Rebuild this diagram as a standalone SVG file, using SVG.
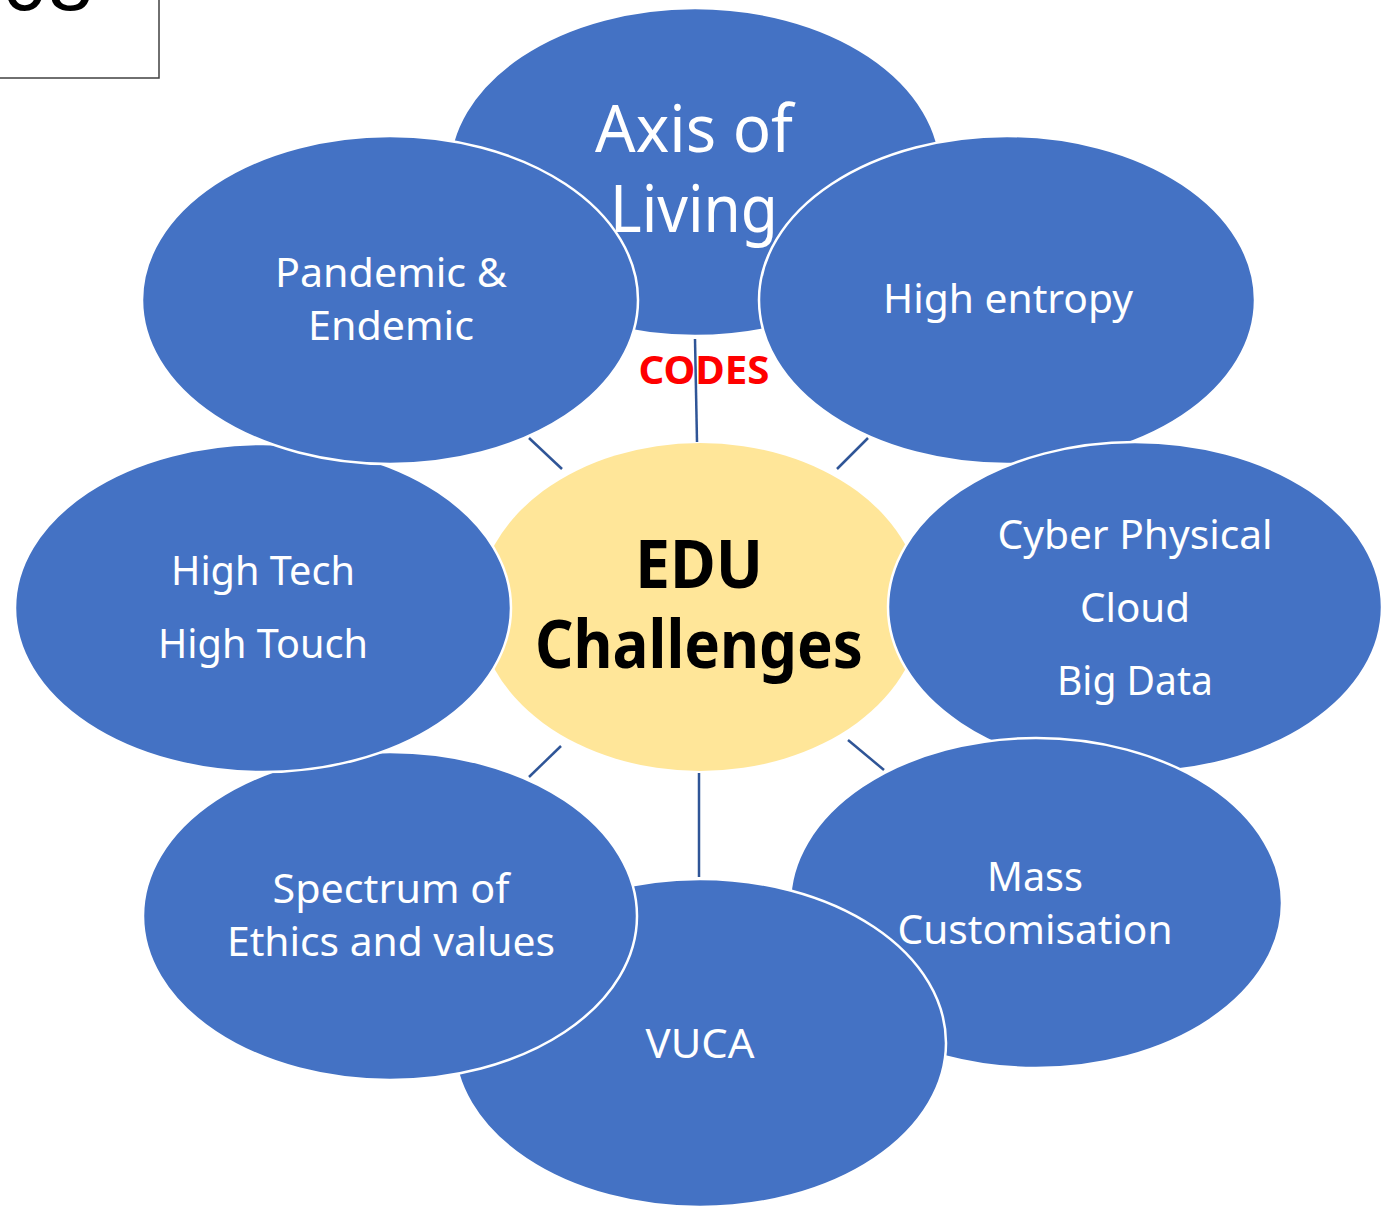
<svg xmlns="http://www.w3.org/2000/svg" width="1387" height="1206" viewBox="0 0 1387 1206">
<style>
.sat{fill:#4472C4;stroke:#FFFFFF;stroke-width:2.5}
.ctr{fill:#FFE699}
.t{font-family:"Noto Sans","Open Sans",sans-serif;fill:#FFFFFF;font-size:40px;text-anchor:middle}
.big{font-size:66px}
.c{font-family:"Noto Sans","Open Sans",sans-serif;fill:#000000;font-weight:bold;font-size:66px;text-anchor:middle}
.conn{stroke:#2F5597;stroke-width:2.5;fill:none}
</style>
<rect width="1387" height="1206" fill="#FFFFFF"/>
<g id="corner">
<rect x="-5" y="-5" width="164" height="83" fill="#FFFFFF" stroke="#404040" stroke-width="1.5"/>
<text x="2" y="10" font-family="Liberation Sans, Arial, sans-serif" font-size="82" fill="#000000">08</text>
</g>
<g id="codes-label">
<text x="704" y="384" font-family="Noto Sans, Open Sans, sans-serif" font-weight="bold" font-size="40" fill="#FF0000" text-anchor="middle" textLength="131" lengthAdjust="spacingAndGlyphs">CODES</text>
</g>
<g id="connectors">
<line class="conn" x1="695" y1="339" x2="697" y2="442"/>
<line class="conn" x1="529" y1="438" x2="562" y2="469"/>
<line class="conn" x1="868" y1="438" x2="837" y2="469"/>
<line class="conn" x1="529" y1="777" x2="561" y2="746"/>
<line class="conn" x1="848" y1="740" x2="884" y2="770"/>
<line class="conn" x1="699" y1="773" x2="699" y2="877"/>
</g>
<g id="center">
<ellipse class="ctr" cx="700" cy="607" rx="222" ry="164"/>
<text class="c" x="699" y="588" textLength="128" lengthAdjust="spacingAndGlyphs">EDU</text>
<text class="c" x="699" y="668" textLength="328" lengthAdjust="spacingAndGlyphs">Challenges</text>
</g>
<g id="axis-of-living">
<ellipse class="sat" cx="695" cy="172" rx="246" ry="164"/>
<text class="t big" x="694" y="152" textLength="198" lengthAdjust="spacingAndGlyphs">Axis of</text>
<text class="t big" x="694" y="232" textLength="168" lengthAdjust="spacingAndGlyphs">Living</text>
</g>
<g id="high-entropy">
<ellipse class="sat" cx="1007" cy="300" rx="248" ry="164"/>
<text class="t" x="1008" y="313" textLength="250" lengthAdjust="spacingAndGlyphs">High entropy</text>
</g>
<g id="cyber-physical">
<ellipse class="sat" cx="1135" cy="607" rx="247" ry="165"/>
<text class="t" x="1135" y="549" textLength="275" lengthAdjust="spacingAndGlyphs">Cyber Physical</text>
<text class="t" x="1135" y="622" textLength="110" lengthAdjust="spacingAndGlyphs">Cloud</text>
<text class="t" x="1135" y="695" textLength="156" lengthAdjust="spacingAndGlyphs">Big Data</text>
</g>
<g id="mass-customisation">
<ellipse class="sat" cx="1036" cy="903" rx="246" ry="165"/>
<text class="t" x="1035" y="891" textLength="96" lengthAdjust="spacingAndGlyphs">Mass</text>
<text class="t" x="1035" y="944" textLength="275" lengthAdjust="spacingAndGlyphs">Customisation</text>
</g>
<g id="vuca">
<ellipse class="sat" cx="700" cy="1043" rx="246" ry="164"/>
<text class="t" x="700" y="1058" textLength="109" lengthAdjust="spacingAndGlyphs">VUCA</text>
</g>
<g id="spectrum">
<ellipse class="sat" cx="390" cy="916" rx="247" ry="164"/>
<text class="t" x="391" y="903" textLength="237" lengthAdjust="spacingAndGlyphs">Spectrum of</text>
<text class="t" x="391" y="956" textLength="328" lengthAdjust="spacingAndGlyphs">Ethics and values</text>
</g>
<g id="high-tech">
<ellipse class="sat" cx="263" cy="608" rx="248" ry="164"/>
<text class="t" x="263" y="585" textLength="184" lengthAdjust="spacingAndGlyphs">High Tech</text>
<text class="t" x="263" y="658" textLength="210" lengthAdjust="spacingAndGlyphs">High Touch</text>
</g>
<g id="pandemic">
<ellipse class="sat" cx="390" cy="300" rx="248" ry="164"/>
<text class="t" x="391" y="287" textLength="232" lengthAdjust="spacingAndGlyphs">Pandemic &amp;</text>
<text class="t" x="391" y="340" textLength="166" lengthAdjust="spacingAndGlyphs">Endemic</text>
</g>
</svg>
